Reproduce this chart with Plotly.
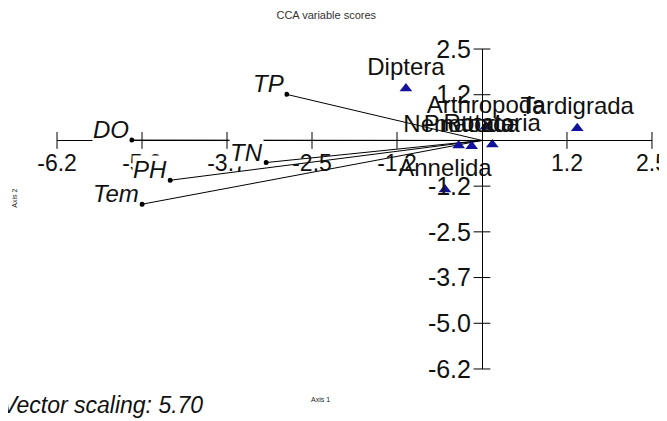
import plotly.graph_objects as go

# species scores (blue triangles)
species = ["Diptera", "Tardigrada", "Arthropoda", "Nematoda", "Protozoa", "Rotatoria", "Annelida"]
sp_x = [-1.11, 1.39, 0.06, -0.34, -0.15, 0.15, -0.54]
sp_y = [1.41, 0.33, 0.38, -0.14, -0.16, -0.11, -1.33]

# environmental vectors (already scaled)
env = ["DO", "TP", "TN", "PH", "Tem"]
env_x = [-5.11, -2.85, -3.15, -4.55, -4.96]
env_y = [0.01, 1.25, -0.60, -1.08, -1.73]

# axis ticks
x_ticks = [-6.2, -4.96, -3.72, -2.48, -1.24, 1.24, 2.48]
x_tick_text = ["-6.2", "-5.0", "-3.7", "-2.5", "-1.2", "1.2", "2.5"]
y_ticks = [2.48, 1.24, -1.24, -2.48, -3.72, -4.96, -6.2]
y_tick_text = ["2.5", "1.2", "-1.2", "-2.5", "-3.7", "-5.0", "-6.2"]

X_RANGE = [-6.2005, 2.4805]
Y_RANGE = [-6.2005, 2.4805]

FONT = "Liberation Sans, Arial, sans-serif"
BLUE = "#12129c"
INK = "#111111"

fig = go.Figure()

# vectors from the origin
lx, ly = [], []
for x, y in zip(env_x, env_y):
    lx += [0, x, None]
    ly += [0, y, None]
fig.add_trace(go.Scatter(x=lx, y=ly, mode="lines",
                         line=dict(color="black", width=1),
                         hoverinfo="skip", showlegend=False))
fig.add_trace(go.Scatter(x=env_x, y=env_y, mode="markers",
                         marker=dict(color="black", size=5),
                         showlegend=False, cliponaxis=False))

# tick marks crossing the axis lines
fig.add_trace(go.Scatter(x=x_ticks, y=[0] * len(x_ticks), mode="markers",
                         marker=dict(symbol="line-ns-open", size=12, color="black",
                                     line=dict(color="black", width=1)),
                         hoverinfo="skip", showlegend=False, cliponaxis=False))
fig.add_trace(go.Scatter(x=[0] * len(y_ticks), y=y_ticks, mode="markers",
                         marker=dict(symbol="line-ew-open", size=12, color="black",
                                     line=dict(color="black", width=1)),
                         hoverinfo="skip", showlegend=False, cliponaxis=False))

# species
fig.add_trace(go.Scatter(x=sp_x, y=sp_y, mode="markers+text",
                         text=species, textposition="top center",
                         textfont=dict(family=FONT, size=24, color=INK),
                         marker=dict(symbol="triangle-up", size=11, color=BLUE),
                         showlegend=False, cliponaxis=False))

# vector labels
for name, x, y in zip(env, env_x, env_y):
    fig.add_annotation(x=x, y=y, text=name, showarrow=False,
                       xanchor="right", yanchor="bottom", xshift=-2, yshift=-4,
                       bgcolor="white", borderpad=0,
                       font=dict(family=FONT, size=24, color=INK, style="italic"))

fig.add_annotation(xref="paper", yref="paper", x=0.248, y=-0.112,
                   xanchor="right", yanchor="middle", showarrow=False,
                   text="Vector scaling: 5.70",
                   font=dict(family=FONT, size=23, color=INK, style="italic"))
fig.add_annotation(xref="paper", yref="paper", x=0.443, y=-0.112,
                   showarrow=False, text="Axis 1",
                   font=dict(family=FONT, size=7, color="#222222"))
fig.add_annotation(xref="paper", yref="paper", x=-0.08, y=0.535,
                   showarrow=False, text="Axis 2", textangle=-90,
                   font=dict(family=FONT, size=7, color="#222222"))

x_pos = (0 - Y_RANGE[0]) / (Y_RANGE[1] - Y_RANGE[0])
y_pos = (0 - X_RANGE[0]) / (X_RANGE[1] - X_RANGE[0])

# page body has an 8px margin, so the figure is a bit smaller than the window
fig.update_layout(
    width=659, height=413,
    margin=dict(l=49, r=15, t=41, b=52),
    paper_bgcolor="white", plot_bgcolor="white",
    font=dict(family=FONT, color=INK),
    title=dict(text="CCA variable scores", x=0.483, y=0.983,
               xanchor="center", yanchor="middle",
               font=dict(family=FONT, size=11, color="#333333")),
    xaxis=dict(range=X_RANGE, anchor="free", position=x_pos,
               showgrid=False, zeroline=False, showline=True,
               linecolor="black", linewidth=1, ticks="",
               tickvals=x_ticks, ticktext=x_tick_text,
               tickfont=dict(family=FONT, size=23, color=INK),
               ticklabelstandoff=2, ticklabeloverflow="allow",
               automargin=False),
    yaxis=dict(range=Y_RANGE, anchor="free", position=y_pos,
               showgrid=False, zeroline=False, showline=True,
               linecolor="black", linewidth=1, ticks="",
               tickvals=y_ticks, ticktext=y_tick_text,
               tickfont=dict(family=FONT, size=25, color=INK),
               ticklabelstandoff=6, ticklabeloverflow="allow",
               automargin=False),
)

fig.write_html("out.html")
